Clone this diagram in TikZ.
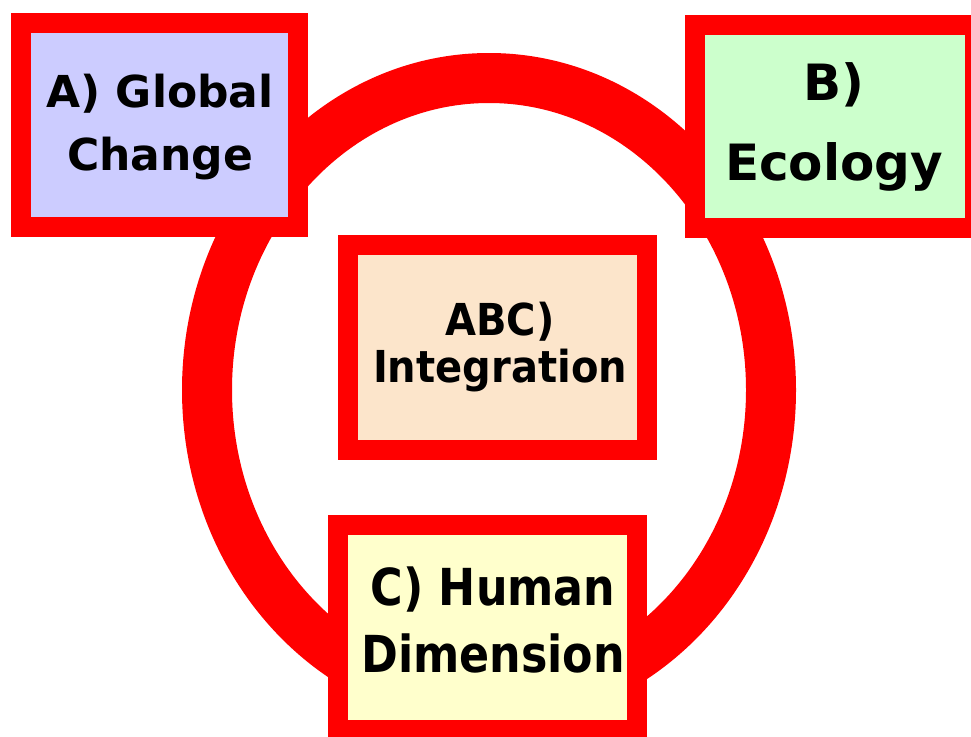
\documentclass[tikz,border=0pt]{standalone}
\usepackage{fontspec}
\newfontfamily\fN{DejaVu Sans}
\newfontfamily\fI{DejaVu Sans}[FakeStretch=0.91]
\newfontfamily\fH{DejaVu Sans}[FakeStretch=0.87]
\definecolor{ringred}{RGB}{255,0,0}
\definecolor{fillA}{RGB}{204,204,255}
\definecolor{fillB}{RGB}{204,255,204}
\definecolor{fillABC}{RGB}{252,229,203}
\definecolor{fillC}{RGB}{255,255,204}
\tikzset{
  box/.style={draw=ringred, line width=20pt, rectangle, inner sep=0pt, outer sep=0pt},
  lbl/.style={anchor=base, inner sep=0pt, text=black, font=\bfseries},
}
\begin{document}
\begin{tikzpicture}[x=1pt,y=-1pt]
\useasboundingbox (0,0) rectangle (971,736);
\clip (0,0) rectangle (971,736);
% ring
\draw[ringred, line width=50pt] (489,390) ellipse [x radius=282, y radius=312];
% boxes
\node[box, fill=fillA, minimum width=277pt, minimum height=204pt] (A) at (159.5,125) {};
\node[box, fill=fillB, minimum width=280pt, minimum height=203pt] (B) at (835,126.5) {};
\node[box, fill=fillABC, minimum width=299pt, minimum height=205pt] (ABC) at (497.5,347.5) {};
\node[box, fill=fillC, minimum width=299pt, minimum height=205pt] (C) at (487.5,627.5) {};
% labels
\node[lbl, font=\fN\bfseries\fontsize{44}{44}\selectfont] (A1) at (160,107) {A) Global};
\node[lbl, font=\fN\bfseries\fontsize{44}{44}\selectfont] (A2) at (160,170) {Change};
\node[lbl, font=\fN\bfseries\fontsize{50}{50}\selectfont] (B1) at (834,100) {B)};
\node[lbl, font=\fN\bfseries\fontsize{50}{50}\selectfont] (B2) at (834,180) {Ecology};
\node[lbl, font=\fI\bfseries\fontsize{44}{44}\selectfont] (ABC1) at (500,335) {ABC)};
\node[lbl, font=\fI\bfseries\fontsize{44}{44}\selectfont] (ABC2) at (500,382) {Integration};
\node[lbl, font=\fH\bfseries\fontsize{51}{51}\selectfont] (C1) at (493,605) {C) Human};
\node[lbl, font=\fH\bfseries\fontsize{51}{51}\selectfont] (C2) at (493,672) {Dimension};
\end{tikzpicture}
\end{document}
